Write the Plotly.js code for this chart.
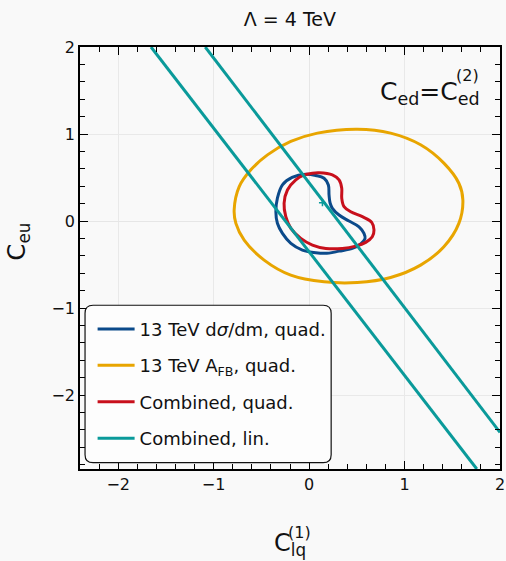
<!DOCTYPE html>
<html><head><meta charset="utf-8">
<script src="https://cdn.plot.ly/plotly-3.0.1.min.js"></script>
<style>html,body{margin:0;padding:0;background:#f9f9f9}</style>
</head><body><div id="chart" style="width:506px;height:561px"></div>
<script>
// ---- data ----
const dsigmaX = [-0.035, 0.070, 0.157, 0.202, 0.209, 0.220, 0.244, 0.314, 0.418, 0.523, 0.575, 0.586, 0.544, 0.453, 0.314, 0.209, 0.070, -0.070, -0.191, -0.279, -0.332, -0.348, -0.332, -0.279, -0.178, -0.035];
const dsigmaY = [0.538, 0.524, 0.492, 0.415, 0.300, 0.207, 0.146, 0.069, 0.000, -0.066, -0.142, -0.202, -0.259, -0.315, -0.346, -0.369, -0.365, -0.334, -0.257, -0.142, -0.026, 0.107, 0.262, 0.415, 0.501, 0.538];

const afbX = [-0.785, -0.732, -0.610, -0.436, -0.192, 0.087, 0.505, 0.854, 1.168, 1.412, 1.569, 1.611, 1.569, 1.412, 1.168, 0.854, 0.505, 0.157, -0.192, -0.471, -0.680, -0.767, -0.785];
const afbY = [0.127, 0.395, 0.588, 0.760, 0.914, 1.010, 1.056, 1.010, 0.876, 0.665, 0.434, 0.242, -0.027, -0.296, -0.507, -0.649, -0.707, -0.699, -0.622, -0.449, -0.219, -0.027, 0.127];

const combQuadX = [0.035, 0.105, 0.244, 0.314, 0.342, 0.342, 0.366, 0.436, 0.558, 0.656, 0.680, 0.662, 0.593, 0.488, 0.348, 0.175, 0.035, -0.087, -0.191, -0.244, -0.262, -0.227, -0.139, -0.063, 0.035];
const combQuadY = [0.550, 0.555, 0.530, 0.472, 0.377, 0.262, 0.165, 0.107, 0.050, -0.015, -0.104, -0.181, -0.245, -0.288, -0.315, -0.315, -0.276, -0.199, -0.084, 0.050, 0.204, 0.357, 0.472, 0.524, 0.550];

// two straight boundary lines of the linear fit (null separates them)
const combLinX = [-1.656, 1.757, null, -1.088, 2.0];
const combLinY = [2.0, -2.85, null, 2.0, -2.43];

const bestFitX = [0.14];
const bestFitY = [0.21];

const xRange = [-2.4, 2];
const yRange = [-2.85, 2];

const seriesNames = ['13 TeV d<i>σ</i>/dm, quad.', '13 TeV A<sub>FB</sub>, quad.', 'Combined, quad.', 'Combined, lin.'];

// ---- styling ----
const BLUE = '#0b4a8a', ORANGE = '#e8a500', RED = '#c8101c', TEAL = '#0a9a9a';
const FONT = 'DejaVu Sans, Verdana, sans-serif';

const traces = [
  {x: afbX, y: afbY, name: seriesNames[1], mode: 'lines', line: {color: ORANGE, width: 3, shape: 'spline', smoothing: 1}, legendgroup: 'b', legendrank: 2},
  {x: dsigmaX, y: dsigmaY, name: seriesNames[0], mode: 'lines', line: {color: BLUE, width: 3, shape: 'spline', smoothing: 1}, legendgroup: 'a', legendrank: 1},
  {x: combQuadX, y: combQuadY, name: seriesNames[2], mode: 'lines', line: {color: RED, width: 3, shape: 'spline', smoothing: 1}, legendgroup: 'c', legendrank: 3},
  {x: combLinX, y: combLinY, name: seriesNames[3], mode: 'lines', line: {color: TEAL, width: 3}, legendgroup: 'd', legendrank: 4, connectgaps: false},
  {x: bestFitX, y: bestFitY, mode: 'markers', marker: {symbol: 'cross-thin', size: 5, line: {color: TEAL, width: 1.5}}, showlegend: false, hoverinfo: 'skip'}
];

// rounded legend frame (paper coordinates)
const x0 = 0.012, x1 = 0.598, y0 = 0.015, y1 = 0.388, rx = 0.019, ry = 0.019;
const framePath = `M ${x0+rx},${y0} L ${x1-rx},${y0} Q ${x1},${y0} ${x1},${y0+ry} L ${x1},${y1-ry} Q ${x1},${y1} ${x1-rx},${y1} L ${x0+rx},${y1} Q ${x0},${y1} ${x0},${y1-ry} L ${x0},${y0+ry} Q ${x0},${y0} ${x0+rx},${y0} Z`;

const layout = {
  width: 506, height: 561,
  margin: {l: 80, r: 6, t: 47, b: 92},
  paper_bgcolor: '#f9f9f9', plot_bgcolor: '#f9f9f9',
  font: {family: FONT, color: '#111'},
  title: {text: 'Λ = 4 TeV', font: {family: FONT, size: 19, color: '#111'}, x: 0.573, xanchor: 'center', y: 0.966, yanchor: 'middle'},
  xaxis: {
    range: xRange, dtick: 1, tick0: 0,
    showline: true, linecolor: '#000', linewidth: 1.5, mirror: 'ticks',
    ticks: 'inside', ticklen: 8, tickwidth: 1.2, tickcolor: '#000',
    zerolinecolor: '#e6e6e6', zerolinewidth: 1,
    tickfont: {family: FONT, size: 16, color: '#111'},
    minor: {ticks: 'inside', ticklen: 5, tickwidth: 1, tickcolor: '#000', dtick: 0.2}
  },
  yaxis: {
    range: yRange, dtick: 1, tick0: 0,
    showline: true, linecolor: '#000', linewidth: 1.5, mirror: 'ticks',
    ticks: 'inside', ticklen: 8, tickwidth: 1.2, tickcolor: '#000',
    zerolinecolor: '#e6e6e6', zerolinewidth: 1,
    tickfont: {family: FONT, size: 16, color: '#111'},
    minor: {ticks: 'inside', ticklen: 5, tickwidth: 1, tickcolor: '#000', dtick: 0.2}
  },
  legend: {
    x: 0.03, y: 0.375, xanchor: 'left', yanchor: 'top',
    bgcolor: 'rgba(0,0,0,0)', borderwidth: 0, itemwidth: 37,
    font: {family: FONT, size: 18, color: '#111'},
    traceorder: 'grouped', tracegroupgap: 10
  },
  shapes: [
    {type: 'path', xref: 'paper', yref: 'paper', path: framePath, fillcolor: '#fdfdfd', line: {color: '#111', width: 1.2}, layer: 'above'}
  ],
  annotations: [
    {xref: 'paper', yref: 'paper', x: 0.957, y: 0.89, xanchor: 'right', yanchor: 'middle', showarrow: false,
     text: 'C<sub>ed</sub>=C<sub>ed</sub>', font: {family: FONT, size: 25, color: '#111'}},
    {xref: 'paper', yref: 'paper', x: 0.923, y: 0.933, xanchor: 'center', yanchor: 'middle', showarrow: false,
     text: '(2)', font: {family: FONT, size: 16, color: '#111'}},
    {xref: 'paper', yref: 'paper', x: 0.5, y: -0.178, xanchor: 'center', yanchor: 'middle', showarrow: false,
     text: 'C<sub>lq</sub>', font: {family: FONT, size: 24, color: '#111'}},
    {xref: 'paper', yref: 'paper', x: 0.523, y: -0.151, xanchor: 'center', yanchor: 'middle', showarrow: false,
     text: '(1)', font: {family: FONT, size: 16, color: '#111'}},
    {xref: 'paper', yref: 'paper', x: -0.147, y: 0.54, xanchor: 'center', yanchor: 'middle', showarrow: false, textangle: -90,
     text: 'C<sub>eu</sub>', font: {family: FONT, size: 24, color: '#111'}}
  ],
  showlegend: true
};

Plotly.newPlot('chart', traces, layout, {displayModeBar: false});
</script></body></html>
